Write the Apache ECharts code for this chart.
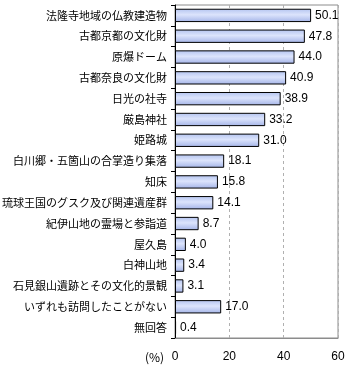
<!DOCTYPE html>
<html><head><meta charset="utf-8">
<script src="https://cdn.jsdelivr.net/npm/echarts@6/dist/echarts.min.js"></script>
<style>html,body{margin:0;padding:0;background:#fff}#c{width:350px;height:367px}</style>
</head><body><div id="c"></div>
<script>
const categories = ["法隆寺地域の仏教建造物","古都京都の文化財","原爆ドーム","古都奈良の文化財","日光の社寺","厳島神社","姫路城","白川郷・五箇山の合掌造り集落","知床","琉球王国のグスク及び関連遺産群","紀伊山地の霊場と参詣道","屋久島","白神山地","石見銀山遺跡とその文化的景観","いずれも訪問したことがない","無回答"];
const values = [50.1,47.8,44.0,40.9,38.9,33.2,31.0,18.1,15.8,14.1,8.7,4.0,3.4,3.1,17.0,0.4];
const xTicks = [0,20,40,60];
const unitLabel = "(%)";

const chart = echarts.init(document.getElementById('c'), null, {renderer:'canvas'});
chart.setOption({
  animation:false,
  grid:{left:175,right:12,top:5,bottom:29,outerBoundsMode:'none',containLabel:false,show:true,borderColor:'#8c8c8c',borderWidth:1},
  xAxis:{type:'value',min:xTicks[0],max:xTicks[xTicks.length-1],interval:20,
    axisLine:{show:true,lineStyle:{color:'#8c8c8c'}},axisTick:{show:false},
    axisLabel:{color:'#000',fontFamily:'Liberation Sans, Arial',fontSize:12,margin:13},
    splitLine:{show:true,lineStyle:{color:'#b0b0b0',type:[3,3]}}},
  yAxis:{type:'category',data:categories,inverse:true,
    axisLine:{show:true,lineStyle:{color:'#000'}},
    axisTick:{show:true,length:4,lineStyle:{color:'#000'}},
    axisLabel:{color:'#000',fontFamily:'Noto Sans CJK JP',fontSize:11,margin:8}},
  graphic:[{type:'text',left:145,top:351,style:{text:unitLabel,fontFamily:'Noto Sans CJK JP',fontSize:12,fill:'#000'}}],
  series:[{type:'bar',data:values,barWidth:'64%',
    itemStyle:{borderColor:'#000',borderWidth:1,
      color:new echarts.graphic.LinearGradient(0,0,0,1,[
        {offset:0,color:'#b4c4f0'},{offset:0.45,color:'#dce4fc'},{offset:1,color:'#a4b4e8'}])},
    label:{show:true,position:'right',distance:4,color:'#000',fontFamily:'Liberation Sans, Arial',fontSize:12,
      formatter:p=>p.value.toFixed(1)}}]
});
</script></body></html>
